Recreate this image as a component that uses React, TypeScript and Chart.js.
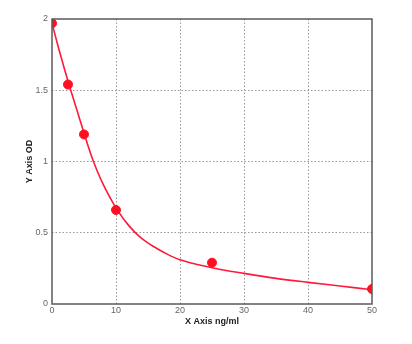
import React, { useEffect, useRef } from "react";
import { Chart, registerables } from "chart.js";

Chart.register(...registerables);

// Measured standard points
const concX = [0, 2.5, 5, 10, 25, 50];
const odY = [1.97, 1.54, 1.19, 0.66, 0.29, 0.105];

// Fitted curve
const curveX = [0, 1, 2, 3, 4, 5, 6, 7, 8, 10, 12, 14, 16, 18, 20, 25, 30, 35, 40, 45, 50];
const curveY = [1.97, 1.8, 1.64, 1.49, 1.345, 1.2, 1.06, 0.94, 0.84, 0.675, 0.55, 0.46, 0.4, 0.35, 0.31, 0.255, 0.215, 0.18, 0.152, 0.126, 0.1];

const xTitle = "X Axis ng/ml";
const yTitle = "Y Axis OD";

const frame = {
  id: "frame",
  afterDatasetsDraw(chart: any) {
    const { ctx, chartArea: a } = chart;
    ctx.save();
    ctx.strokeStyle = "#5a5a5a";
    ctx.lineWidth = 1.5;
    ctx.strokeRect(a.left, a.top, a.right - a.left, a.bottom - a.top);
    ctx.restore();
  },
};

export default function App() {
  const ref = useRef<HTMLCanvasElement>(null);
  useEffect(() => {
    const chart = new Chart(ref.current!, {
      type: "scatter",
      data: {
        datasets: [
          {
            type: "scatter",
            data: concX.map((x, i) => ({ x, y: odY[i] })),
            backgroundColor: "#ff1020",
            borderColor: "#ff1020",
            pointRadius: 4.5,
            order: 0,
          },
          {
            type: "line",
            data: curveX.map((x, i) => ({ x, y: curveY[i] })),
            borderColor: "#ff1a3a",
            borderWidth: 1.6,
            pointRadius: 0,
            cubicInterpolationMode: "monotone",
            fill: false,
            order: 1,
          } as any,
        ],
      },
      options: {
        animation: false,
        responsive: false,
        maintainAspectRatio: false,
        layout: { padding: { left: 0, right: 40, top: 19, bottom: 17 } },
        plugins: { legend: { display: false }, tooltip: { enabled: false } },
        scales: {
          x: {
            type: "linear",
            min: 0,
            max: 50,
            afterFit: (s: any) => {
              s.height = 23;
            },
            ticks: {
              stepSize: 10,
              color: "#666",
              padding: 1,
              font: { family: "Liberation Sans", size: 9 },
            },
            grid: {
              drawTicks: false,
              color: (c: any) => (c.tick && (c.tick.value === 0 || c.tick.value === 50) ? "rgba(0,0,0,0)" : "#999"),
              lineWidth: 1,
            },
            border: { display: false, dash: [1.5, 2] },
            title: {
              display: true,
              text: xTitle,
              color: "#222",
              font: { family: "Liberation Sans", size: 9, weight: "bold" },
              padding: { top: 2, bottom: 0 },
            },
          },
          y: {
            type: "linear",
            min: 0,
            max: 2,
            afterFit: (s: any) => {
              s.width = 52;
            },
            ticks: {
              stepSize: 0.5,
              color: "#666",
              padding: 4,
              font: { family: "Liberation Sans", size: 9 },
              callback: (v: any) => String(v),
            },
            grid: {
              drawTicks: false,
              color: (c: any) => (c.tick && (c.tick.value === 0 || c.tick.value === 2) ? "rgba(0,0,0,0)" : "#999"),
              lineWidth: 1,
            },
            border: { display: false, dash: [1.5, 2] },
            title: {
              display: true,
              text: yTitle,
              color: "#222",
              font: { family: "Liberation Sans", size: 9, weight: "bold" },
              padding: { top: 24, bottom: 0 },
            },
          },
        },
      },
      plugins: [frame],
    });
    return () => chart.destroy();
  }, []);
  return (
    <div style={{ position: "fixed", left: 0, top: 0, width: 412, height: 344, background: "#fff" }}>
      <canvas ref={ref} width={412} height={344} style={{ width: 412, height: 344, display: "block" }} />
    </div>
  );
}
